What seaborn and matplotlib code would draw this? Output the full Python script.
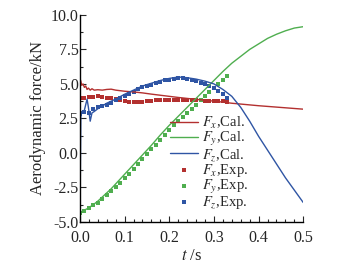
import numpy as np
import pandas as pd
import seaborn as sns
import matplotlib.pyplot as plt
from matplotlib.ticker import MultipleLocator

# calculated curves
t_cal = [0, 0.002, 0.004, 0.007, 0.010, 0.013, 0.016, 0.019, 0.023, 0.027, 0.032,
         0.04, 0.05, 0.06, 0.07, 0.08, 0.1, 0.12, 0.14, 0.16, 0.18, 0.2, 0.22,
         0.24, 0.26, 0.28, 0.3, 0.32, 0.34, 0.36, 0.38, 0.4, 0.42, 0.44, 0.46,
         0.48, 0.5]
fx_cal = [5.4, 5.2, 4.9, 5.0, 4.75, 4.85, 4.6, 4.7, 4.55, 4.65, 4.55,
          4.58, 4.55, 4.6, 4.62, 4.55, 4.47, 4.42, 4.35, 4.26, 4.18, 4.1, 4.02,
          3.95, 3.88, 3.82, 3.75, 3.68, 3.6, 3.54, 3.48, 3.42, 3.37, 3.32, 3.27,
          3.22, 3.17]
fy_cal = [-4.3, -4.28, -4.25, -4.2, -4.15, -4.1, -4.05, -4.0, -3.9, -3.82, -3.7,
          -3.5, -3.2, -2.9, -2.6, -2.25, -1.55, -0.85, -0.15, 0.55, 1.3, 2.0, 2.65,
          3.3, 3.95, 4.6, 5.25, 5.9, 6.5, 7.0, 7.5, 7.9, 8.3, 8.6, 8.85,
          9.05, 9.15]
fz_cal = [-5.0, 2.6, 3.0, 2.9, 3.1, 3.5, 3.9, 3.3, 2.3, 2.9, 3.0,
          3.2, 3.4, 3.6, 3.75, 3.9, 4.25, 4.55, 4.85, 5.05, 5.25, 5.4, 5.5,
          5.45, 5.35, 5.2, 5.0, 4.6, 4.1, 3.3, 2.3, 1.2, 0.2, -0.8, -1.8,
          -2.7, -3.6]

# experiment points
t_exp = [0.00, 0.01, 0.02, 0.03, 0.04, 0.05, 0.06, 0.07, 0.08, 0.09, 0.10, 0.11,
         0.12, 0.13, 0.14, 0.15, 0.16, 0.17, 0.18, 0.19, 0.20, 0.21, 0.22, 0.23,
         0.24, 0.25, 0.26, 0.27, 0.28, 0.29, 0.30, 0.31, 0.32, 0.33]
fx_exp = [4.0, 4.0, 4.05, 4.08, 4.1, 4.05, 4.0, 3.95, 3.9, 3.82, 3.76, 3.72,
          3.7, 3.7, 3.72, 3.75, 3.78, 3.8, 3.82, 3.84, 3.85, 3.86, 3.86, 3.85,
          3.84, 3.83, 3.82, 3.8, 3.78, 3.76, 3.75, 3.74, 3.73, 3.72]
fy_exp = [-4.35, -4.2, -4.0, -3.8, -3.6, -3.35, -3.05, -2.75, -2.45, -2.15, -1.85, -1.5,
          -1.15, -0.8, -0.45, -0.1, 0.25, 0.6, 0.95, 1.3, 1.65, 2.0, 2.3, 2.6,
          2.9, 3.2, 3.5, 3.8, 4.1, 4.4, 4.7, 5.0, 5.3, 5.6]
fz_exp = [2.85, 3.0, 2.9, 3.15, 3.3, 3.4, 3.5, 3.65, 3.8, 4.0, 4.15, 4.3,
          4.45, 4.6, 4.75, 4.85, 4.95, 5.05, 5.15, 5.25, 5.3, 5.35, 5.4, 5.4,
          5.35, 5.3, 5.2, 5.1, 5.0, 4.85, 4.7, 4.5, 4.3, 4.0]

RED = '#b3302f'
GREEN = '#4fae4f'
BLUE = '#2f55a4'

sns.set_style('ticks')
plt.rcParams['font.family'] = ['Liberation Serif', 'DejaVu Serif']
plt.rcParams['mathtext.fontset'] = 'stix'

fig = plt.figure(figsize=(3.49, 2.67), dpi=100)
ax = fig.add_axes([0.229, 0.169, 0.640, 0.775])

cal = pd.DataFrame({'t': t_cal, 'fx': fx_cal, 'fy': fy_cal, 'fz': fz_cal})
exp = pd.DataFrame({'t': t_exp, 'fx': fx_exp, 'fy': fy_exp, 'fz': fz_exp})

sns.lineplot(data=cal, x='t', y='fx', color=RED, lw=1.0, ax=ax, label=r'$F_x$,Cal.')
sns.lineplot(data=cal, x='t', y='fy', color=GREEN, lw=1.0, ax=ax, label=r'$F_y$,Cal.')
sns.lineplot(data=cal, x='t', y='fz', color=BLUE, lw=1.0, ax=ax, label=r'$F_z$,Cal.')
sns.scatterplot(data=exp, x='t', y='fx', color=RED, marker='s', s=7, linewidth=0, ax=ax, label=r'$F_x$,Exp.')
sns.scatterplot(data=exp, x='t', y='fy', color=GREEN, marker='s', s=7, linewidth=0, ax=ax, label=r'$F_y$,Exp.')
sns.scatterplot(data=exp, x='t', y='fz', color=BLUE, marker='s', s=7, linewidth=0, ax=ax, label=r'$F_z$,Exp.')

ax.set_xlim(0, 0.5)
ax.set_ylim(-5, 10)
ax.xaxis.set_major_locator(MultipleLocator(0.1))
ax.xaxis.set_minor_locator(MultipleLocator(0.02))
ax.yaxis.set_major_locator(MultipleLocator(2.5))
ax.yaxis.set_minor_locator(MultipleLocator(1.25))
ax.xaxis.set_major_formatter(plt.FormatStrFormatter('%.1f'))
ax.yaxis.set_major_formatter(plt.FormatStrFormatter('%.1f'))
ax.tick_params(which='both', direction='in', labelsize=11.5, width=0.8)
ax.tick_params(axis='y', pad=1)
ax.tick_params(axis='x', pad=6)
ax.tick_params(which='major', length=4)
ax.tick_params(which='minor', length=2)
sns.despine(ax=ax)
for sp in ax.spines.values():
    sp.set_linewidth(1.0)
    sp.set_color('black')

ax.set_xlabel(r'$t$ /s', fontsize=12, labelpad=1)
ax.set_ylabel('Aerodynamic force/kN', fontsize=12, labelpad=3)

ax.legend(loc='upper left', bbox_to_anchor=(0.37, 0.55), frameon=False, fontsize=10.5,
          handlelength=1.9, handletextpad=0.3, labelspacing=-0.08, borderpad=0,
          markerscale=1.0)

fig.savefig('out.png', dpi=100)
